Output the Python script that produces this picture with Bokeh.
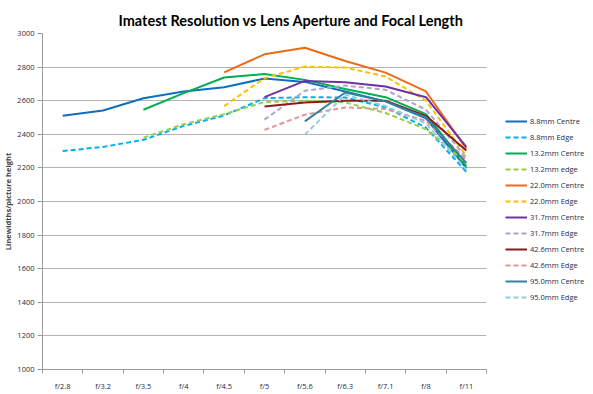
from bokeh.plotting import figure
from bokeh.models import Range1d, FixedTicker, Legend, LegendItem, ColumnDataSource
from bokeh.embed import file_html
from bokeh.resources import INLINE

apertures = ["f/2.8", "f/3.2", "f/3.5", "f/4", "f/4.5", "f/5", "f/5.6", "f/6.3", "f/7.1", "f/8", "f/11"]

nan = float("nan")
c88 = [2510, 2542, 2615, 2655, 2680, 2732, 2712, 2655, 2596, 2495, 2198]
e88 = [2300, 2325, 2367, 2450, 2512, 2615, 2621, 2619, 2560, 2440, 2176]
c132 = [nan, nan, 2546, 2645, 2738, 2759, 2724, 2670, 2621, 2520, 2210]
e132 = [nan, nan, 2380, 2460, 2520, 2592, 2600, 2590, 2527, 2430, 2230]
c220 = [nan, nan, nan, nan, 2769, 2876, 2915, 2836, 2767, 2655, 2315]
e220 = [nan, nan, nan, nan, 2568, 2734, 2803, 2797, 2744, 2600, 2272]
c317 = [nan, nan, nan, nan, nan, 2621, 2718, 2710, 2685, 2621, 2325]
e317 = [nan, nan, nan, nan, nan, 2487, 2659, 2690, 2665, 2546, 2262]
c426 = [nan, nan, nan, nan, nan, 2566, 2590, 2600, 2600, 2510, 2303]
e426 = [nan, nan, nan, nan, nan, 2426, 2517, 2560, 2550, 2480, 2250]
c950 = [nan, nan, nan, nan, nan, nan, 2477, 2649, 2596, 2500, 2230]
e950 = [nan, nan, nan, nan, nan, nan, 2398, 2636, 2568, 2465, 2190]

series = [
    ("8.8mm Centre", c88, "#0E6FC1", "solid"),
    ("8.8mm Edge", e88, "#00B0F0", "dashed"),
    ("13.2mm Centre", c132, "#00B050", "solid"),
    ("13.2mm edge", e132, "#92D050", "dashed"),
    ("22.0mm Centre", c220, "#EE6A16", "solid"),
    ("22.0mm Edge", e220, "#FFC000", "dashed"),
    ("31.7mm Centre", c317, "#7030A0", "solid"),
    ("31.7mm Edge", e317, "#B3A2C7", "dashed"),
    ("42.6mm Centre", c426, "#8B1C1C", "solid"),
    ("42.6mm Edge", e426, "#E09694", "dashed"),
    ("95.0mm Centre", c950, "#31849B", "solid"),
    ("95.0mm Edge", e950, "#93CDDD", "dashed"),
]

FONT = "Open Sans"

p = figure(frame_width=444, frame_height=336, output_backend="svg", toolbar_location=None,
           x_range=Range1d(0, len(apertures)), y_range=Range1d(1000, 3000),
           min_border_left=38, min_border_right=95, min_border_top=33,
           min_border_bottom=17)

p.title.text = "Imatest Resolution vs Lens Aperture and Focal Length"
p.title.text_font = "Lato"
p.title.text_font_size = "14.5px"
p.title.text_font_style = "bold"
p.title.text_color = "#000000"
p.title.align = "left"
p.title.offset = 76

p.outline_line_color = None
p.background_fill_color = "white"
p.border_fill_color = "white"

xs = [i + 0.5 for i in range(len(apertures))]

items = []
for name, vals, color, dash in series:
    src = ColumnDataSource(dict(x=xs, y=vals))
    r = p.line("x", "y", source=src, line_color=color, line_width=2,
               line_dash="5 3" if dash == "dashed" else "solid")
    items.append(LegendItem(label=name, renderers=[r]))

# axes
xa = p.xaxis[0]
xa.ticker = FixedTicker(ticks=xs, minor_ticks=list(range(len(apertures) + 1)))
xa.major_label_overrides = {x: a for x, a in zip(xs, apertures)}
xa.major_tick_out = 0
xa.major_tick_in = 0
xa.minor_tick_out = 4
xa.minor_tick_in = 0
xa.minor_tick_line_color = "#9A9A9A"
xa.axis_line_color = "#9A9A9A"
xa.major_label_text_font = FONT
xa.major_label_text_font_size = "7.5px"
xa.major_label_text_color = "#1F2A44"
xa.major_label_standoff = 7

ya = p.yaxis[0]
ya.ticker = FixedTicker(ticks=list(range(1000, 3001, 200)), minor_ticks=[])
ya.axis_label = "Linewidths/picture height"
ya.axis_label_text_font = FONT
ya.axis_label_text_font_size = "7.5px"
ya.axis_label_text_font_style = "bold"
ya.axis_label_standoff = 1
ya.axis_line_color = "#9A9A9A"
ya.major_tick_line_color = "#9A9A9A"
ya.major_tick_out = 5
ya.major_tick_in = 0
ya.minor_tick_line_color = None
ya.major_label_text_font = FONT
ya.major_label_text_font_size = "7.5px"
ya.major_label_text_color = "#1F2A44"
ya.major_label_standoff = 3

p.xgrid.grid_line_color = None
p.ygrid.grid_line_color = "#B4B4B4"
p.ygrid.grid_line_width = 1

legend = Legend(items=items, location=(19, 66))
legend.border_line_color = None
legend.background_fill_alpha = 0
legend.label_text_font = FONT
legend.label_text_font_size = "7.5px"
legend.label_text_color = "#1F2A44"
legend.glyph_width = 22
legend.glyph_height = 12
legend.label_height = 12
legend.spacing = 4
legend.padding = 4
legend.margin = 0
legend.label_standoff = 3
p.add_layout(legend, "right")

open("out.html", "w").write(file_html(p, INLINE))
